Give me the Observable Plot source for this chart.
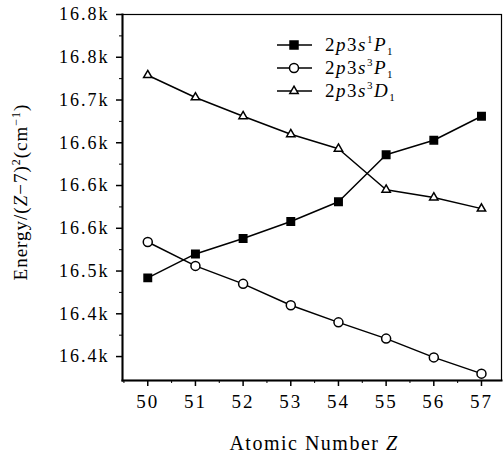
<!DOCTYPE html>
<html><head><meta charset="utf-8">
<script src="https://cdn.jsdelivr.net/npm/d3@7"></script>
<script src="https://cdn.jsdelivr.net/npm/@observablehq/plot@0.6"></script>
<style>
body{margin:0;background:#fff;}
#chart svg, #chart svg text, #chart svg tspan{font-family:"Liberation Serif","Times New Roman",serif !important;}
</style>
</head><body><div id="chart"></div>
<script>
// Data
const Z = [50, 51, 52, 53, 54, 55, 56, 57];
const s1P1 = [16492, 16520, 16538, 16558, 16581, 16636, 16653, 16681];
const s3P1 = [16534, 16506, 16485, 16460, 16440, 16421, 16399, 16380];
const s3D1 = [16729, 16703, 16681, 16660, 16643, 16595, 16586, 16573];
const yTicks = [16400, 16450, 16500, 16550, 16600, 16650, 16700, 16750, 16800];
const yTickLabels = ["16.4k", "16.4k", "16.5k", "16.6k", "16.6k", "16.6k", "16.7k", "16.8k", "16.8k"];
const yMinor = [16425, 16475, 16525, 16575, 16625, 16675, 16725, 16775];
const xTicks = [50, 51, 52, 53, 54, 55, 56, 57];
const xMinor = [49.5, 50.5, 51.5, 52.5, 53.5, 54.5, 55.5, 56.5, 57.5];
const seriesNames = ["1P1", "3P1", "3D1"];

const rows = (vals) => Z.map((z, i) => ({z, e: vals[i]}));
const d1 = rows(s1P1), d2 = rows(s3P1), d3r = rows(s3D1);

const FONT = '"Liberation Serif","Times New Roman",serif';

const chart = Plot.plot({
  width: 503, height: 456,
  marginLeft: 122, marginRight: 2, marginTop: 14, marginBottom: 76,
  style: {fontFamily: FONT, fontSize: "18px", color: "black", background: "white", overflow: "visible"},
  x: {domain: [49.47, 57.42], axis: null},
  y: {domain: [16372, 16800], axis: null},
  marks: [
    Plot.frame({stroke: "black", strokeWidth: 1.2}),
    Plot.frame({anchor: "left", stroke: "black", strokeWidth: 2}),
    Plot.frame({anchor: "bottom", stroke: "black", strokeWidth: 2}),
    Plot.axisX({ticks: xTicks, tickSize: 6, tickPadding: 8, tickFormat: d => String(d), label: null, fontSize: 19, strokeWidth: 1.5}),
    Plot.axisX({ticks: xMinor.filter(v => v > 49.47 && v < 57.42), tickSize: 3, tickFormat: () => "", label: null}),
    Plot.axisY({ticks: yTicks, tickSize: 6, tickPadding: 7, tickFormat: d => yTickLabels[yTicks.indexOf(d)], label: null, fontSize: 18, strokeWidth: 1.5}),
    Plot.axisY({ticks: yMinor, tickSize: 3, tickFormat: () => "", label: null}),
    Plot.line(d1, {x: "z", y: "e", stroke: "black", strokeWidth: 1.5}),
    Plot.line(d2, {x: "z", y: "e", stroke: "black", strokeWidth: 1.5}),
    Plot.line(d3r, {x: "z", y: "e", stroke: "black", strokeWidth: 1.5}),
    Plot.dot(d1, {x: "z", y: "e", symbol: "square", fill: "black", stroke: "black", r: 4.2}),
    Plot.dot(d2, {x: "z", y: "e", symbol: "circle", fill: "white", stroke: "black", strokeWidth: 1.5, r: 4.5}),
    Plot.dot(d3r, {x: "z", y: "e", symbol: "triangle", fill: "white", stroke: "black", strokeWidth: 1.5, r: 3.1})
  ]
});
document.getElementById("chart").appendChild(chart);

const svg = d3.select(chart);
svg.selectAll("text").style("letter-spacing", "2px");

// Axis titles
const xt = svg.append("text").attr("x", 314).attr("y", 450).attr("text-anchor", "middle")
  .style("font-size", "20px").style("letter-spacing", "1.5px").attr("fill", "black");
xt.append("tspan").text("Atomic Number ");
xt.append("tspan").attr("font-style", "italic").text("Z");

const yt = svg.append("text").attr("transform", "translate(27,192) rotate(-90)").attr("text-anchor", "middle")
  .style("font-size", "19px").style("letter-spacing", "1px").attr("fill", "black");
yt.append("tspan").text("Energy/(");
yt.append("tspan").attr("font-style", "italic").text("Z");
yt.append("tspan").text("\u22127)");
yt.append("tspan").attr("font-size", "12px").attr("dy", "-7").text("2");
yt.append("tspan").attr("dy", "7").text("(cm");
yt.append("tspan").attr("font-size", "12px").attr("dy", "-7").text("\u22121");
yt.append("tspan").attr("dy", "7").text(")");

// Legend
const legendSymbols = [
  {sym: d3.symbolSquare, size: 64, fill: "black"},
  {sym: d3.symbolCircle, size: 64, fill: "white"},
  {sym: d3.symbolTriangle, size: 30, fill: "white"}
];
const legendSup = ["1", "3", "3"];
const legendLetter = ["P", "P", "D"];
const lg = svg.append("g").attr("transform", "translate(277,45)");
seriesNames.forEach((name, i) => {
  const g = lg.append("g").attr("transform", `translate(0,${i * 23})`);
  g.append("line").attr("x1", 0).attr("x2", 35).attr("y1", 0).attr("y2", 0).attr("stroke", "black").attr("stroke-width", 1.5);
  g.append("path").attr("transform", "translate(17,0)").attr("d", d3.symbol(legendSymbols[i].sym, legendSymbols[i].size)())
    .attr("fill", legendSymbols[i].fill).attr("stroke", "black").attr("stroke-width", 1.5);
  const t = g.append("text").attr("x", 48).attr("y", 6).attr("text-anchor", "start")
    .style("font-size", "19px").style("letter-spacing", "1.5px").attr("fill", "black");
  t.append("tspan").text("2");
  t.append("tspan").attr("font-style", "italic").text("p");
  t.append("tspan").text("3");
  t.append("tspan").attr("font-style", "italic").text("s");
  t.append("tspan").attr("font-size", "11px").attr("dy", "-8").text(legendSup[i]);
  t.append("tspan").attr("font-style", "italic").attr("dy", "8").text(legendLetter[i]);
  t.append("tspan").attr("font-size", "11px").attr("dy", "4").text("1");
});
</script>
</body></html>
